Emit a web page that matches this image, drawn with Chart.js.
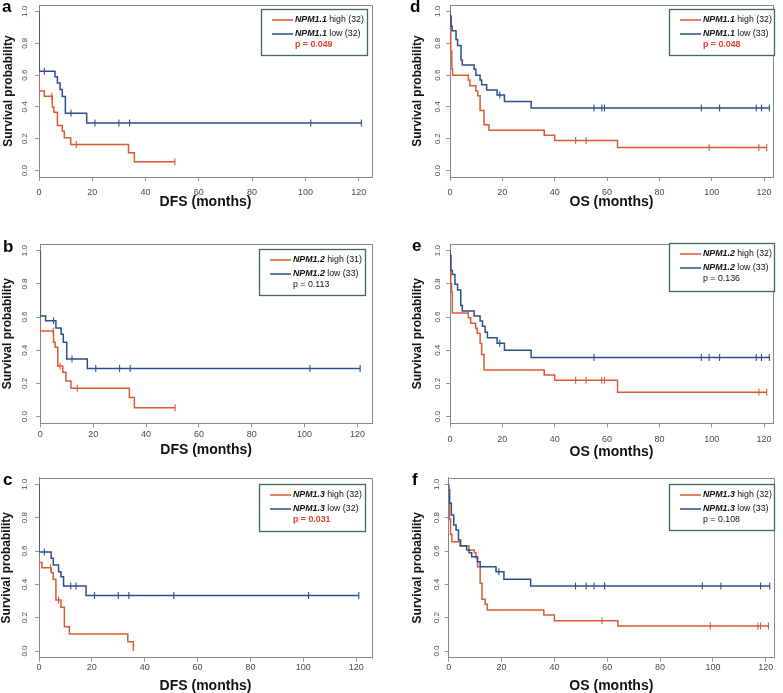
<!DOCTYPE html>
<html>
<head>
<meta charset="utf-8">
<script src="https://cdn.jsdelivr.net/npm/chart.js@4.4.1/dist/chart.umd.min.js"></script>
<style>
  body { margin: 0; background: #fff; }
  #wrap { position: relative; width: 783px; height: 693px; overflow: hidden; }
  #wrap canvas { position: absolute; }
</style>
</head>
<body>
<div id="wrap"></div>
<script>
// axis ticks
const monthTicks = [0, 20, 40, 60, 80, 100, 120];
const monthTickLabels = ['0', '20', '40', '60', '80', '100', '120'];
const survTicks = [0, 0.2, 0.4, 0.6, 0.8, 1.0];
const survTickLabels = ['0.0', '0.2', '0.4', '0.6', '0.8', '1.0'];

// a: NPM1.1, DFS
const aLowTime = [0, 0, 6, 6.9, 7.9, 8.75, 9.9, 17.9, 121];
const aLowSurv = [1, 0.625, 0.59, 0.55, 0.51, 0.465, 0.36, 0.30, 0.30];
const aLowCens = [2, 12, 21, 30, 34, 102, 121];
const aHighTime = [0, 0, 2, 5, 5.6, 6.9, 8.75, 9.5, 11.9, 33.6, 35.8, 51];
const aHighSurv = [1, 0.5, 0.467, 0.40, 0.367, 0.284, 0.247, 0.207, 0.164, 0.112, 0.056, 0.056];
const aHighCens = [4.8, 14, 51];
const aLegend = ['NPM1.1', 'high (32)', 'low (32)', 'p = 0.049'];

// d: NPM1.1, OS
const dLowTime = [0, 0, 0.4, 0.8, 2.3, 2.9, 4.2, 4.7, 9.2, 9.9, 11.5, 12.1, 14, 18, 20.8, 31, 122];
const dLowSurv = [1, 0.97, 0.909, 0.879, 0.824, 0.786, 0.695, 0.664, 0.637, 0.60, 0.57, 0.539, 0.506, 0.475, 0.434, 0.394, 0.394];
const dLowCens = [19, 55, 58, 59, 96, 103, 117, 119, 122];
const dHighTime = [0, 0, 0.3, 0.7, 1, 7, 7.6, 9.9, 10.6, 11.5, 13, 14.9, 36, 40, 64, 121];
const dHighSurv = [1, 0.969, 0.75, 0.64, 0.6, 0.57, 0.533, 0.5, 0.47, 0.378, 0.288, 0.253, 0.222, 0.19, 0.145, 0.145];
const dHighCens = [48, 52, 99, 118, 121];
const dLegend = ['NPM1.1', 'high (32)', 'low (33)', 'p = 0.048'];

// b: NPM1.2, DFS
const bLowTime = [0, 0, 2, 5.9, 7.9, 8.7, 10, 17.8, 121];
const bLowSurv = [1, 0.606, 0.578, 0.534, 0.496, 0.448, 0.347, 0.29, 0.29];
const bLowCens = [5, 12, 21, 30, 34, 102, 121];
const bHighTime = [0, 0, 5, 5.6, 6.6, 8.5, 9.7, 11.6, 33.7, 35.6, 51];
const bHighSurv = [1, 0.516, 0.448, 0.418, 0.305, 0.267, 0.215, 0.171, 0.116, 0.054, 0.054];
const bHighCens = [4.9, 7.5, 14, 51];
const bLegend = ['NPM1.2', 'high (31)', 'low (33)', 'p = 0.113'];

// e: NPM1.2, OS
const eLowTime = [0, 0, 0.3, 0.9, 1.9, 2.9, 4.1, 4.7, 9.2, 11.5, 12.4, 13.4, 14.3, 18, 20.8, 31, 122];
const eLowSurv = [1, 0.97, 0.88, 0.857, 0.797, 0.763, 0.669, 0.636, 0.606, 0.576, 0.544, 0.508, 0.476, 0.442, 0.40, 0.357, 0.357];
const eLowCens = [19, 55, 96, 99, 103, 117, 119, 122];
const eHighTime = [0, 0, 0.3, 0.6, 0.9, 7, 7.9, 9.8, 10.4, 11.5, 12.1, 13, 36, 40, 64, 121];
const eHighSurv = [1, 0.969, 0.80, 0.75, 0.625, 0.596, 0.562, 0.532, 0.502, 0.44, 0.375, 0.281, 0.251, 0.219, 0.147, 0.147];
const eHighCens = [48, 52, 58, 59, 118, 121];
const eLegend = ['NPM1.2', 'high (32)', 'low (33)', 'p = 0.136'];

// c: NPM1.3, DFS
const cLowTime = [0, 0, 4.6, 5.4, 7.4, 8.3, 9.3, 17.8, 121];
const cLowSurv = [1, 0.594, 0.556, 0.516, 0.476, 0.446, 0.39, 0.333, 0.333];
const cLowCens = [2, 12, 14, 21, 30, 34, 51, 102, 121];
const cHighTime = [0, 0, 1.1, 4.6, 5.4, 6.4, 8.3, 9.6, 11.5, 33.6, 35.7];
const cHighSurv = [1, 0.531, 0.50, 0.47, 0.43, 0.306, 0.262, 0.146, 0.102, 0.056, 0.0];
const cHighCens = [4.4, 7.4];
const cLegend = ['NPM1.3', 'high (32)', 'low (32)', 'p = 0.031'];

// f: NPM1.3, OS
const fLowTime = [0, 0, 0.3, 1, 1.9, 2.8, 3.7, 4.5, 6.8, 7.7, 8.7, 10.9, 11.9, 17.9, 20.9, 31, 121.5];
const fLowSurv = [1, 0.966, 0.886, 0.816, 0.756, 0.726, 0.666, 0.632, 0.606, 0.59, 0.566, 0.536, 0.506, 0.476, 0.43, 0.39, 0.39];
const fLowCens = [19, 48, 52, 55, 59, 96, 103, 118, 121.5];
const fHighTime = [0, 0, 0.3, 0.7, 1.2, 4.3, 7.7, 9.7, 10.3, 10.9, 11.9, 12.6, 13.8, 14.6, 36, 40, 64, 121];
const fHighSurv = [1, 0.969, 0.79, 0.70, 0.656, 0.63, 0.606, 0.59, 0.56, 0.506, 0.406, 0.31, 0.28, 0.246, 0.216, 0.182, 0.15, 0.15];
const fHighCens = [58, 99, 117, 118, 121];
const fLegend = ['NPM1.3', 'high (32)', 'low (33)', 'p = 0.108'];

const HIGH = '#dc5a32';
const LOW = '#2b4f8e';
const BOX = '#7d8c8a';
const LEGEND_BORDER = '#3f6864';
const PRED = '#e0402a';
const FONT = '"Liberation Sans", Arial, sans-serif';
Chart.defaults.font.family = FONT;

function survAt(times, surv, t) {
  let s = surv[0];
  for (let i = 0; i < times.length; i++) if (times[i] <= t) s = surv[i];
  return s;
}

const kmDecor = {
  id: 'kmDecor',
  afterDraw(chart, args, o) {
    const ctx = chart.ctx, a = chart.chartArea;
    ctx.save();
    // top and right sides of the plot box
    ctx.strokeStyle = BOX;
    ctx.lineWidth = 1;
    ctx.beginPath();
    ctx.moveTo(Math.round(a.left) + 0.5, Math.round(a.top) + 0.5);
    ctx.lineTo(Math.round(a.right) + 0.5, Math.round(a.top) + 0.5);
    ctx.lineTo(Math.round(a.right) + 0.5, Math.round(a.bottom) + 0.5);
    ctx.stroke();

    // panel letter
    ctx.fillStyle = '#000';
    ctx.font = 'bold 17px ' + FONT;
    ctx.textAlign = 'left';
    ctx.textBaseline = 'alphabetic';
    ctx.fillText(o.letter, o.letterX, o.letterY);

    // legend box
    const L = o.box;
    ctx.fillStyle = '#fff';
    ctx.fillRect(L.x, L.y, L.w, L.h);
    ctx.strokeStyle = LEGEND_BORDER;
    ctx.lineWidth = 1.3;
    ctx.strokeRect(L.x + 0.5, L.y + 0.5, L.w, L.h);

    const rows = [[HIGH, o.text[1], 11], [LOW, o.text[2], 25]];
    ctx.textBaseline = 'middle';
    rows.forEach(([col, rest, dy]) => {
      const y = L.y + dy;
      ctx.strokeStyle = col;
      ctx.lineWidth = 1.5;
      ctx.beginPath();
      ctx.moveTo(L.x + 11, y);
      ctx.lineTo(L.x + 32, y);
      ctx.stroke();
      ctx.fillStyle = '#111';
      ctx.font = 'italic bold 8.8px ' + FONT;
      ctx.fillText(o.text[0], L.x + 34, y);
      const w = ctx.measureText(o.text[0]).width;
      ctx.font = '8.8px ' + FONT;
      ctx.fillText(' ' + rest, L.x + 34 + w, y);
    });
    ctx.font = (o.sig ? 'bold ' : '') + '8.8px ' + FONT;
    ctx.fillStyle = o.sig ? PRED : '#111';
    ctx.fillText(o.text[3], L.x + 34, L.y + 36);
    ctx.restore();
  }
};

function makePanel(p) {
  const canvas = document.createElement('canvas');
  canvas.width = p.w;
  canvas.height = p.h;
  canvas.style.left = p.left + 'px';
  canvas.style.top = p.top + 'px';
  canvas.style.width = p.w + 'px';
  canvas.style.height = p.h + 'px';
  document.getElementById('wrap').appendChild(canvas);

  const curve = (times, surv, color) => ({
    type: 'line',
    data: times.map((t, i) => ({ x: t, y: surv[i] })),
    borderColor: color,
    borderWidth: 1.5,
    stepped: 'before',
    pointRadius: 0,
    fill: false
  });
  const marks = (cens, times, surv, color) => ({
    type: 'scatter',
    data: cens.map(t => ({ x: t, y: survAt(times, surv, t) })),
    pointStyle: 'line',
    rotation: 90,
    radius: 3.5,
    borderColor: color,
    borderWidth: 1.1,
    showLine: false
  });

  new Chart(canvas, {
    type: 'line',
    data: {
      datasets: [
        curve(p.low[0], p.low[1], LOW),
        marks(p.low[2], p.low[0], p.low[1], LOW),
        curve(p.high[0], p.high[1], HIGH),
        marks(p.high[2], p.high[0], p.high[1], HIGH)
      ]
    },
    options: {
      responsive: false,
      animation: false,
      devicePixelRatio: 1,
      layout: { padding: { left: 0, top: p.area.t, right: p.w - p.area.r, bottom: 0 } },
      plugins: {
        legend: { display: false },
        tooltip: { enabled: false },
        kmDecor: { letter: p.letter, letterX: p.letterX, letterY: p.letterY, box: p.box, text: p.text, sig: p.sig }
      },
      scales: {
        x: {
          type: 'linear',
          min: 0,
          max: p.xMax,
          afterBuildTicks: s => { s.ticks = monthTicks.map(v => ({ value: v })); },
          afterFit: s => { s.height = p.h - p.area.b; s.paddingLeft = 0; s.paddingRight = 0; },
          ticks: {
            callback: (v, i) => monthTickLabels[i],
            maxRotation: 0,
            padding: p.xTickPad,
            color: '#4a4a4a',
            font: { size: 9 }
          },
          grid: { drawOnChartArea: false, tickLength: 4, color: '#8a9896' },
          border: { display: true, color: BOX },
          title: {
            display: true,
            text: p.xTitle,
            color: '#111',
            font: { size: 14, weight: 'bold', lineHeight: 1 },
            padding: { top: 0, bottom: p.xTitlePad }
          }
        },
        y: {
          type: 'linear',
          min: -0.04,
          max: 1.04,
          afterBuildTicks: s => { s.ticks = survTicks.map(v => ({ value: v })); },
          afterFit: s => { s.width = p.area.l; s.paddingTop = 0; s.paddingBottom = 0; },
          ticks: {
            callback: (v, i) => survTickLabels[i],
            minRotation: 90,
            maxRotation: 90,
            crossAlign: 'center',
            padding: p.yTickPad,
            color: '#4a4a4a',
            font: { size: 8 }
          },
          grid: { drawOnChartArea: false, tickLength: 4, color: '#8a9896' },
          border: { display: true, color: BOX },
          title: {
            display: true,
            text: 'Survival probability',
            color: '#111',
            font: { size: 12, weight: 'bold', lineHeight: 1 },
            padding: { top: p.yTitlePad, bottom: 0 }
          }
        }
      }
    },
    plugins: [kmDecor]
  });
}

const panels = [
  { letter: 'a', left: 0, top: 0, w: 390, h: 230, area: { l: 39, r: 372, t: 3.6, b: 177 }, xMax: 125,
    xTitle: 'DFS (months)', xTickPad: 6.5, xTitlePad: 21, yTickPad: 4.5, yTitlePad: 3,
    letterX: 2, letterY: 12, box: { x: 261, y: 9, w: 106, h: 46 },
    low: [aLowTime, aLowSurv, aLowCens], high: [aHighTime, aHighSurv, aHighCens], text: aLegend, sig: true },
  { letter: 'd', left: 390, top: 0, w: 393, h: 230, area: { l: 60, r: 383, t: 3.6, b: 177 }, xMax: 123.4,
    xTitle: 'OS (months)', xTickPad: 6.3, xTitlePad: 21.3, yTickPad: 2.8, yTitlePad: 22,
    letterX: 20, letterY: 12, box: { x: 279, y: 9, w: 105, h: 46 },
    low: [dLowTime, dLowSurv, dLowCens], high: [dHighTime, dHighSurv, dHighCens], text: dLegend, sig: true },
  { letter: 'b', left: 0, top: 230, w: 390, h: 230, area: { l: 40.3, r: 372, t: 14, b: 193.3 }, xMax: 125.5,
    xTitle: 'DFS (months)', xTickPad: 1.7, xTitlePad: 3, yTickPad: 5.8, yTitlePad: 2,
    letterX: 3, letterY: 22, box: { x: 259, y: 19, w: 106, h: 46 },
    low: [bLowTime, bLowSurv, bLowCens], high: [bHighTime, bHighSurv, bHighCens], text: bLegend, sig: false },
  { letter: 'e', left: 390, top: 230, w: 393, h: 230, area: { l: 60, r: 383, t: 14, b: 193.3 }, xMax: 123.4,
    xTitle: 'OS (months)', xTickPad: 7, xTitlePad: 1.3, yTickPad: 2.8, yTitlePad: 22,
    letterX: 22, letterY: 21, box: { x: 279, y: 13, w: 105, h: 48 },
    low: [eLowTime, eLowSurv, eLowCens], high: [eHighTime, eHighSurv, eHighCens], text: eLegend, sig: false },
  { letter: 'c', left: 0, top: 460, w: 390, h: 233, area: { l: 39, r: 372, t: 17.7, b: 197.7 }, xMax: 126,
    xTitle: 'DFS (months)', xTickPad: 0, xTitlePad: 0, yTickPad: 4.5, yTitlePad: 1,
    letterX: 3, letterY: 25, box: { x: 259, y: 24, w: 106, h: 47 },
    low: [cLowTime, cLowSurv, cLowCens], high: [cHighTime, cHighSurv, cHighCens], text: cLegend, sig: true },
  { letter: 'f', left: 390, top: 460, w: 393, h: 233, area: { l: 58.7, r: 384, t: 17.7, b: 197.7 }, xMax: 123.1,
    xTitle: 'OS (months)', xTickPad: 0, xTitlePad: 0, yTickPad: 2.5, yTitlePad: 22,
    letterX: 22, letterY: 25, box: { x: 279, y: 24, w: 105, h: 46 },
    low: [fLowTime, fLowSurv, fLowCens], high: [fHighTime, fHighSurv, fHighCens], text: fLegend, sig: false }
];

panels.forEach(makePanel);
</script>
</body>
</html>
